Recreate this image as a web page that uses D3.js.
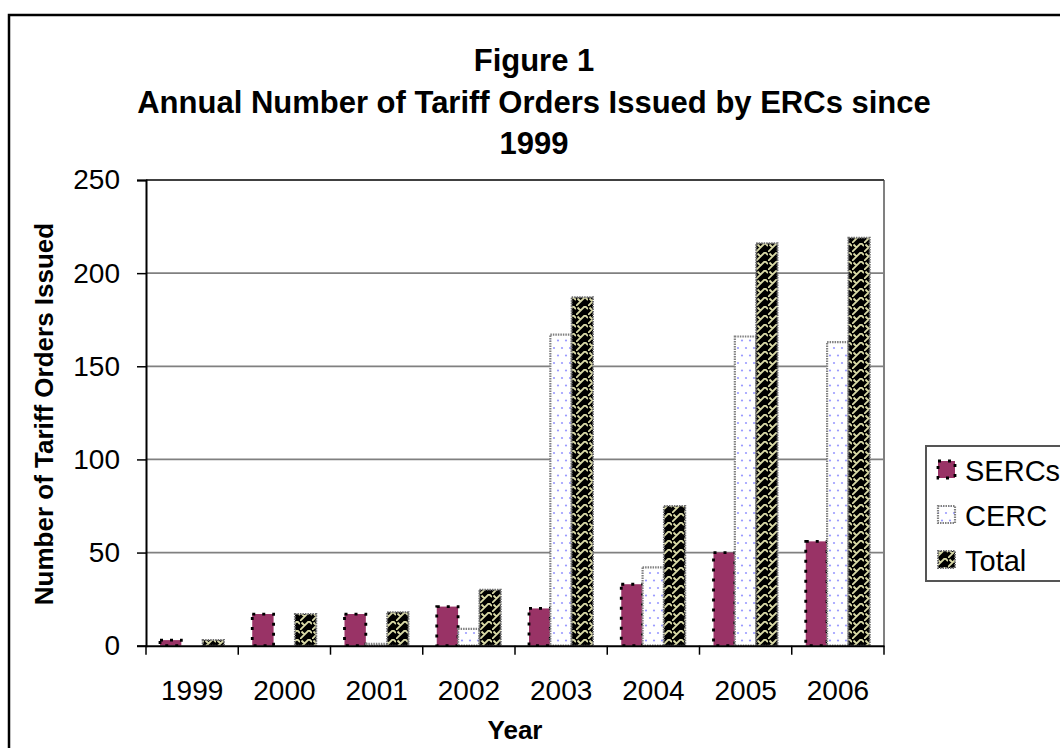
<!DOCTYPE html>
<html><head><meta charset="utf-8">
<script src="https://cdn.jsdelivr.net/npm/d3@7"></script>
<style>
html,body{margin:0;padding:0;background:#fff;}
svg{display:block;font-family:"Liberation Sans",Arial,sans-serif;}
</style></head>
<body><svg id="c" width="1060" height="748"></svg>
<script>
const years = ["1999","2000","2001","2002","2003","2004","2005","2006"];
const serieNames = ["SERCs","CERC","Total"];
const sercs = [3, 17, 17, 21, 20, 33, 50, 56];
const cerc  = [0, 0, 1, 9, 167, 42, 166, 163];
const total = [3, 17, 18, 30, 187, 75, 216, 219];
const yTicks = [0, 50, 100, 150, 200, 250];
const titleLines = ["Figure 1", "Annual Number of Tariff Orders Issued by ERCs since", "1999"];

const svg = d3.select("#c");
const defs = svg.append("defs");

const pC = defs.append("pattern").attr("id","pCerc").attr("patternUnits","userSpaceOnUse")
  .attr("width",8).attr("height",15);
pC.append("rect").attr("width",8).attr("height",15).attr("fill","#fff");
pC.append("circle").attr("cx",2).attr("cy",3).attr("r",1.1).attr("fill","#9b9bff");
pC.append("circle").attr("cx",6).attr("cy",10.5).attr("r",1.1).attr("fill","#9b9bff");

const pT = defs.append("pattern").attr("id","pTotal").attr("patternUnits","userSpaceOnUse")
  .attr("width",12).attr("height",9);
pT.append("rect").attr("width",12).attr("height",9).attr("fill","#000");
pT.append("path").attr("d","M0,9 L9,0 M9,0 L12,3 M-3,6 L0,9 M4.5,4.5 L1.5,1.5 M16.5,4.5 L13.5,1.5")
  .attr("stroke","#d9d9a6").attr("stroke-width",1.8).attr("fill","none");

const L = 146, R = 884, T = 180, B = 645.7;

const x = d3.scaleBand().domain(years).range([L, R]).padding(0);
const inner = d3.scaleBand().domain(serieNames).range([14, 78]).padding(0);
const y = d3.scaleLinear().domain([0, 250]).range([B, T]);

const fills = {SERCs:"#993366", CERC:"url(#pCerc)", Total:"url(#pTotal)"};
const strokes = {SERCs:"#000", CERC:"#808080", Total:"#707070"};
const dashes = {SERCs:"3 7", CERC:"1.5 1", Total:"1.5 1"};
const sw = {SERCs:2.8, CERC:2.2, Total:2};

svg.append("rect").attr("x",9).attr("y",15).attr("width",1200).attr("height",900)
  .attr("fill","#fff").attr("stroke","#000").attr("stroke-width",2.5);

svg.append("g").selectAll("line").data(yTicks.filter(d=>d>0)).join("line")
  .attr("x1",L).attr("x2",R).attr("y1",d=>y(d)).attr("y2",d=>y(d))
  .attr("stroke","#808080").attr("stroke-width",1.8);
svg.append("line").attr("x1",R).attr("x2",R).attr("y1",T).attr("y2",B)
  .attr("stroke","#808080").attr("stroke-width",2);
svg.append("line").attr("x1",L).attr("x2",R).attr("y1",T).attr("y2",T)
  .attr("stroke","#404040").attr("stroke-width",2);

const rows = years.map((yr,i)=>({year:yr, SERCs:sercs[i], CERC:cerc[i], Total:total[i]}));
const gBars = svg.append("g");
rows.forEach(r=>{
  serieNames.forEach(s=>{
    const v = r[s];
    if (v <= 0) return;
    gBars.append("rect")
      .attr("x", x(r.year) + inner(s)).attr("width", inner.bandwidth())
      .attr("y", y(v)).attr("height", B - y(v))
      .attr("fill", fills[s]).attr("stroke", strokes[s])
      .attr("stroke-width", sw[s]).attr("stroke-dasharray", dashes[s]);
  });
});

const yAx = svg.append("g").attr("transform",`translate(${L},0)`)
  .call(d3.axisLeft(y).tickValues(yTicks).tickSize(9).tickPadding(17));
yAx.select(".domain").attr("stroke","#000").attr("stroke-width",2);
yAx.selectAll(".tick line").attr("stroke","#000").attr("stroke-width",1.5);
yAx.selectAll(".tick text").attr("font-size",28).attr("fill","#000")
  .attr("font-family","Liberation Sans, Arial, sans-serif");

const xAx = svg.append("g").attr("transform",`translate(0,${B})`)
  .call(d3.axisBottom(x).tickSize(0).tickPadding(34));
xAx.select(".domain").attr("stroke","#000").attr("stroke-width",2);
xAx.selectAll(".tick text").attr("font-size",28).attr("fill","#000")
  .attr("font-family","Liberation Sans, Arial, sans-serif");
const bounds = years.map(d=>x(d)).concat([R]);
svg.append("g").selectAll("line").data(bounds).join("line")
  .attr("x1",d=>d).attr("x2",d=>d).attr("y1",B).attr("y2",B+9)
  .attr("stroke","#000").attr("stroke-width",1.5);

const tg = svg.append("g").attr("font-weight","bold").attr("font-size",31)
  .attr("text-anchor","middle").attr("fill","#000");
tg.selectAll("text").data(titleLines).join("text")
  .attr("x",534).attr("y",(d,i)=>[71,113,154][i]).text(d=>d);

svg.append("text").attr("x",(L+R)/2).attr("y",739).attr("text-anchor","middle")
  .attr("font-weight","bold").attr("font-size",26).text("Year");
svg.append("text").attr("transform",`translate(53,414) rotate(-90)`)
  .attr("text-anchor","middle").attr("font-weight","bold").attr("font-size",26)
  .text("Number of Tariff Orders Issued");

const lg = svg.append("g");
lg.append("rect").attr("x",926).attr("y",446).attr("width",200).attr("height",135)
  .attr("fill","#fff").attr("stroke","#555").attr("stroke-width",2);
serieNames.forEach((s,i)=>{
  const cy = 470 + i*45;
  lg.append("rect").attr("x",938).attr("y",cy-9).attr("width",17).attr("height",17)
    .attr("fill",fills[s]).attr("stroke",strokes[s]).attr("stroke-width",sw[s])
    .attr("stroke-dasharray",dashes[s]);
  lg.append("text").attr("x",965).attr("y",cy+10.5).attr("font-size",29).text(s);
});
</script></body></html>
